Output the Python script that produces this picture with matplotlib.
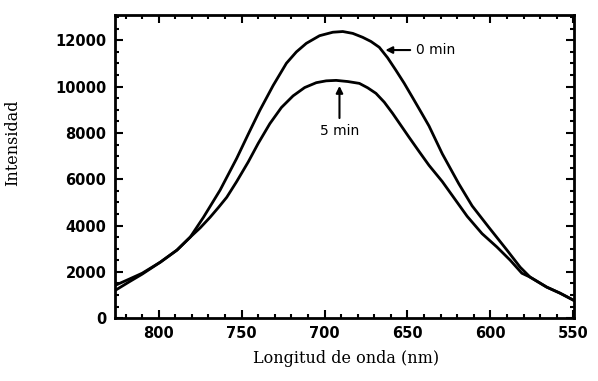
import numpy as np
import matplotlib
matplotlib.use("Agg")
import matplotlib.pyplot as plt
from matplotlib.ticker import MultipleLocator

# espectros (nm, intensidad)
wl_0 = [826, 818, 810, 799, 789, 781, 773, 763, 753, 746, 739, 731, 723, 717,
        711, 703, 695, 689, 683, 677, 672, 667, 662, 657, 652, 647, 641, 637,
        629, 619, 611, 601, 590, 582, 576, 566, 558, 550]
int_0 = [1425, 1680, 1940, 2420, 2940, 3500, 4360, 5530, 6900, 7950, 8980,
         10050, 11010, 11500, 11870, 12200, 12350, 12380, 12300, 12130, 11950,
         11700, 11250, 10710, 10150, 9540, 8800, 8300, 7100, 5800, 4850, 3930,
         2940, 2200, 1770, 1340, 1080, 780]

wl_5 = [826, 818, 810, 799, 789, 781, 775, 769, 764, 759, 753, 746, 740, 733,
        726, 719, 712, 705, 699, 693, 686, 679, 674, 669, 664, 659, 654, 649,
        643, 637, 629, 620, 614, 605, 596, 588, 581, 576, 566, 558, 550]
int_5 = [1210, 1560, 1900, 2420, 2940, 3500, 3900, 4360, 4780, 5220, 5900,
         6750, 7550, 8400, 9100, 9600, 9960, 10170, 10250, 10270, 10220,
         10140, 9950, 9710, 9330, 8850, 8330, 7810, 7200, 6600, 5900, 5000,
         4400, 3650, 3070, 2500, 1940, 1770, 1340, 1080, 780]

fig = plt.figure(figsize=(5.98, 3.81), dpi=100)
ax = fig.add_axes([0.192, 0.165, 0.768, 0.796])

ax.plot(wl_0, int_0, color='black', lw=2)
ax.plot(wl_5, int_5, color='black', lw=2)

ax.set_xlim(826.5, 549.5)
ax.set_ylim(0, 13100)
ax.xaxis.set_major_locator(MultipleLocator(50))
ax.xaxis.set_minor_locator(MultipleLocator(10))
ax.yaxis.set_major_locator(MultipleLocator(2000))
ax.yaxis.set_minor_locator(MultipleLocator(500))
ax.tick_params(which='both', direction='in', top=True, right=True, width=1.5)
ax.tick_params(which='major', length=6, pad=6)
ax.tick_params(which='minor', length=3)
for s in ax.spines.values():
    s.set_linewidth(2)
for lab in ax.get_xticklabels() + ax.get_yticklabels():
    lab.set_fontweight('bold')
    lab.set_fontsize(10.5)

ax.set_xlabel('Longitud de onda (nm)', family='DejaVu Serif', fontsize=11.5)
ax.set_ylabel('Intensidad', family='DejaVu Serif', fontsize=11.5)
ax.xaxis.set_label_coords(0.503, -0.105)
ax.yaxis.set_label_coords(-0.205, 0.578)

ax.annotate('0 min', xy=(665, 11580), xytext=(645, 11580), ha='left', va='center',
            fontsize=10, arrowprops=dict(arrowstyle='-|>', color='black', lw=1.5))
ax.annotate('5 min', xy=(691, 10150), xytext=(691, 8100), ha='center', va='center',
            fontsize=10, arrowprops=dict(arrowstyle='-|>', color='black', lw=1.5))

fig.savefig('out.png', dpi=100)
